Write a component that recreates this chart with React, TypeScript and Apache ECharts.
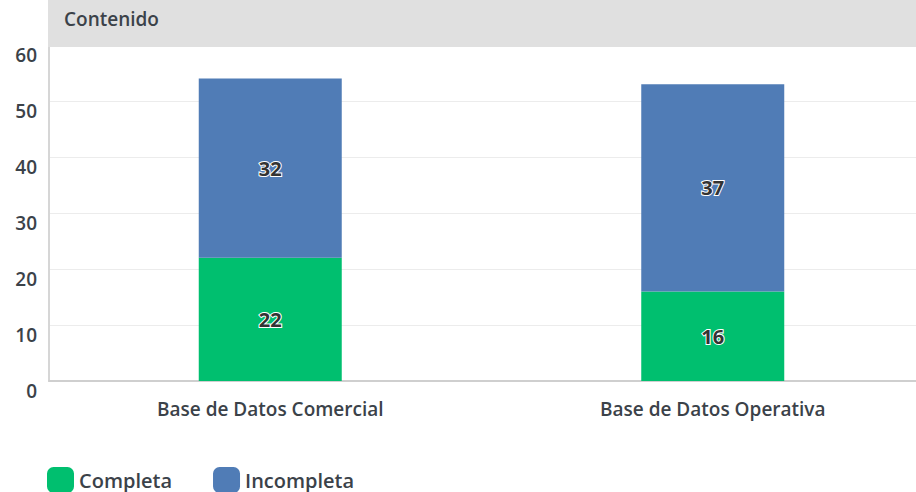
import React, { useEffect, useRef } from "react";
import * as echarts from "echarts";

const categories = ["Base de Datos Comercial", "Base de Datos Operativa"];
const completa = [22, 16];
const incompleta = [32, 37];
const seriesNames = ["Completa", "Incompleta"];
const title = "Contenido";

const FONT = "'Open Sans', sans-serif";
const TXT = "#3b4249";
const CHART_W = 934;

export default function App() {
  const ref = useRef<HTMLDivElement>(null);
  useEffect(() => {
    document.body.style.margin = "0";
    const chart = echarts.init(ref.current!, null, { renderer: "svg" });
    const label = {
      show: true,
      position: "inside",
      color: "#333",
      fontSize: 20,
      fontWeight: 700,
      fontFamily: FONT,
      textBorderColor: "#fff",
      textBorderWidth: 2,
    };
    chart.setOption({
      animation: false,
      textStyle: { fontFamily: FONT },
      grid: { left: 49, right: 0, top: 45, bottom: 111, containLabel: false },
      graphic: [
        {
          type: "rect",
          z: 100,
          shape: { x: 48, y: 0, width: CHART_W - 48, height: 47 },
          style: { fill: "#e0e0e0" },
        },
        {
          type: "text",
          z: 101,
          x: 64,
          y: 19,
          style: {
            text: title,
            fill: TXT,
            font: `600 19px ${FONT}`,
            textVerticalAlign: "middle",
          },
        },
      ],
      legend: {
        left: 47,
        top: 467,
        padding: 0,
        itemWidth: 27,
        itemHeight: 26,
        itemGap: 41,
        icon: "roundRect",
        data: seriesNames,
        textStyle: { fontSize: 20, fontWeight: 600, color: TXT, fontFamily: FONT, lineHeight: 22 },
      },
      xAxis: {
        type: "category",
        data: categories,
        axisLine: { lineStyle: { color: "#cfcfcf", width: 2 } },
        axisTick: { show: false },
        axisLabel: { margin: 18, fontSize: 19, fontWeight: 600, color: TXT, fontFamily: FONT },
      },
      yAxis: {
        type: "value",
        min: 0,
        max: 60,
        interval: 10,
        axisLine: { show: true, lineStyle: { color: "#d6d6d6", width: 2 } },
        splitLine: { lineStyle: { color: "#ececec", width: 1 } },
        axisLabel: {
          margin: 12,
          fontSize: 19,
          fontWeight: 600,
          color: TXT,
          fontFamily: FONT,
          verticalAlign: "top",
        },
      },
      series: [
        {
          name: seriesNames[0],
          type: "bar",
          stack: "total",
          data: completa,
          barWidth: 143,
          itemStyle: { color: "#00bf6f" },
          label,
        },
        {
          name: seriesNames[1],
          type: "bar",
          stack: "total",
          data: incompleta,
          barWidth: 143,
          itemStyle: { color: "#507cb6" },
          label,
        },
      ],
    });
    return () => chart.dispose();
  }, []);
  return (
    <div style={{ width: 916, height: 492, overflow: "hidden", position: "relative" }}>
      <div ref={ref} style={{ width: CHART_W, height: 492 }} />
    </div>
  );
}
